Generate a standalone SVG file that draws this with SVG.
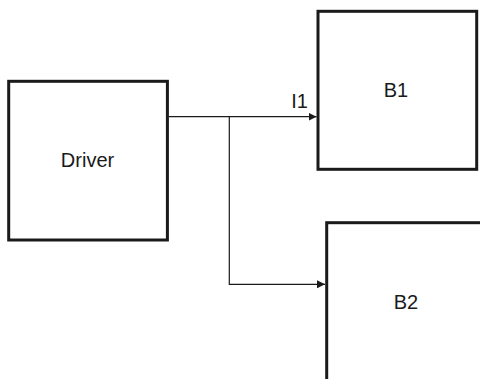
<svg xmlns="http://www.w3.org/2000/svg" width="480" height="379" viewBox="0 0 480 379">
<style>
.box{fill:#fff;stroke:#1a1a1a;stroke-width:3}
.lbl{font-family:"Liberation Sans",Arial,sans-serif;font-size:20px;fill:#1a1a1a;text-anchor:middle}
.wire{fill:none;stroke:#1a1a1a;stroke-width:1.2}
</style>
<defs>
<marker id="arr" markerWidth="8" markerHeight="8" refX="8" refY="4" orient="auto" markerUnits="userSpaceOnUse">
<path d="M0,0 L8,4 L0,8 Z" fill="#1a1a1a"/>
</marker>
</defs>
<rect width="480" height="379" fill="#fff"/>
<g id="driver">
<rect class="box" x="8.7" y="81.3" width="158.7" height="158.7"/>
<text class="lbl" x="87.5" y="167.3">Driver</text>
</g>
<g id="b1">
<rect class="box" x="318" y="11.3" width="158.7" height="158"/>
<text class="lbl" x="396" y="97.3">B1</text>
</g>
<g id="b2">
<rect class="box" x="326.7" y="222.7" width="160" height="160"/>
<text class="lbl" x="406" y="309.3">B2</text>
</g>
<g id="connectors">
<path class="wire" d="M168.5,116.7 H316.5" marker-end="url(#arr)"/>
<path class="wire" d="M229.3,116.7 V284.3 H325" marker-end="url(#arr)"/>
<text class="lbl" x="299.5" y="108">I1</text>
</g>
</svg>
